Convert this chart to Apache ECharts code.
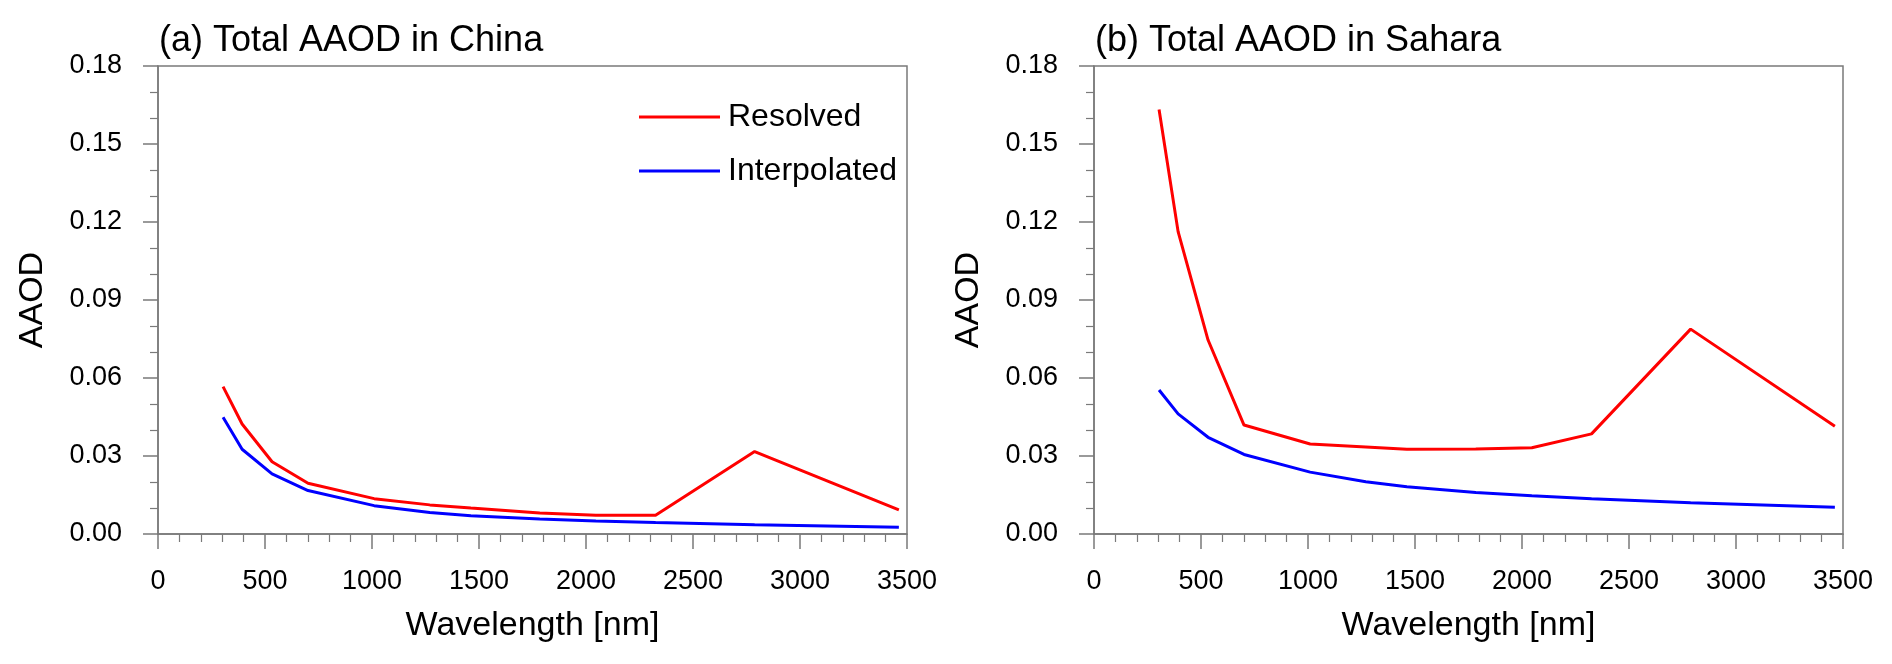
<!DOCTYPE html>
<html>
<head>
<meta charset="utf-8">
<script src="https://cdn.jsdelivr.net/npm/echarts@6/dist/echarts.min.js"></script>
<style>
html,body{margin:0;padding:0;background:#fff;}
#chart{width:1892px;height:664px;}
</style>
</head>
<body>
<div id="chart"></div>
<script>
// Band-center wavelengths (nm)
const wavelengths = [304, 393, 533, 701, 1010, 1270, 1462, 1784, 2046, 2325, 2788, 3462];
// (a) China
const chinaResolved     = [0.0567, 0.0423, 0.0278, 0.0195, 0.0136, 0.0112, 0.0100, 0.0081, 0.0072, 0.0072, 0.0317, 0.0093];
const chinaInterpolated = [0.0449, 0.0326, 0.0231, 0.0167, 0.0109, 0.0083, 0.0070, 0.0058, 0.0050, 0.0044, 0.0036, 0.0026];
// (b) Sahara
const saharaResolved     = [0.1633, 0.1163, 0.0746, 0.0419, 0.0346, 0.0335, 0.0326, 0.0327, 0.0332, 0.0385, 0.0788, 0.0414];
const saharaInterpolated = [0.0554, 0.0462, 0.0372, 0.0306, 0.0238, 0.0201, 0.0182, 0.0160, 0.0147, 0.0136, 0.0120, 0.0103];

const xTicks = [0, 500, 1000, 1500, 2000, 2500, 3000, 3500];
const yTicks = [0.00, 0.03, 0.06, 0.09, 0.12, 0.15, 0.18];
const titles = ['(a) Total AAOD in China', '(b) Total AAOD in Sahara'];
const seriesNames = ['Resolved', 'Interpolated'];
const seriesColors = ['#ff0000', '#0000ff'];

const FONT = '"Liberation Sans", Arial, Helvetica, sans-serif';
const AXIS_COLOR = '#7a7a7a';

function pairs(xs, ys) { return xs.map((x, i) => [x, ys[i]]); }

function xAxisDef(gi) {
  return {
    type: 'value', gridIndex: gi,
    min: xTicks[0], max: xTicks[xTicks.length - 1], interval: xTicks[1] - xTicks[0],
    name: 'Wavelength [nm]', nameLocation: 'middle', nameGap: 75,
    nameTextStyle: { fontFamily: FONT, fontSize: 34, color: '#000' },
    axisLine: { show: true, onZero: false, lineStyle: { color: AXIS_COLOR, width: 1.5 } },
    axisTick: { show: true, inside: false, length: 15, lineStyle: { color: AXIS_COLOR, width: 1.5 } },
    minorTick: { show: true, splitNumber: 5, length: 8, lineStyle: { color: AXIS_COLOR, width: 1.2 } },
    splitLine: { show: false },
    minorSplitLine: { show: false },
    axisLabel: { margin: 34, fontFamily: FONT, fontSize: 27, color: '#000',
      formatter: v => String(Math.round(v)) }
  };
}
function yAxisDef(gi) {
  return {
    type: 'value', gridIndex: gi,
    min: yTicks[0], max: yTicks[yTicks.length - 1], interval: yTicks[1] - yTicks[0],
    name: 'AAOD', nameLocation: 'middle', nameGap: 108, nameRotate: 90,
    nameTextStyle: { fontFamily: FONT, fontSize: 34, color: '#000' },
    axisLine: { show: true, onZero: false, lineStyle: { color: AXIS_COLOR, width: 1.5 } },
    axisTick: { show: true, inside: false, length: 15, lineStyle: { color: AXIS_COLOR, width: 1.5 } },
    minorTick: { show: true, splitNumber: 3, length: 8, lineStyle: { color: AXIS_COLOR, width: 1.2 } },
    splitLine: { show: false },
    minorSplitLine: { show: false },
    axisLabel: { margin: 36, fontFamily: FONT, fontSize: 27, color: '#000',
      formatter: v => v.toFixed(2) }
  };
}
function lineSeries(name, gi, xs, ys, color) {
  return {
    type: 'line', name: name, xAxisIndex: gi, yAxisIndex: gi,
    data: pairs(xs, ys), symbol: 'none', showSymbol: false,
    lineStyle: { color: color, width: 3 }, itemStyle: { color: color },
    emphasis: { disabled: true }, animation: false
  };
}

const chart = echarts.init(document.getElementById('chart'), null, { renderer: 'canvas' });
chart.setOption({
  backgroundColor: '#fff',
  animation: false,
  title: [
    { text: titles[0], left: 154, top: 18, textStyle: { fontFamily: FONT, fontSize: 36, fontWeight: 'normal', color: '#000' } },
    { text: titles[1], left: 1090, top: 18, textStyle: { fontFamily: FONT, fontSize: 36, fontWeight: 'normal', color: '#000' } }
  ],
  legend: {
    data: seriesNames.map((n, i) => ({ name: n, icon: 'rect', itemStyle: { color: seriesColors[i] } })),
    orient: 'vertical', left: 639, top: 101, padding: 0,
    itemWidth: 81, itemHeight: 3, itemGap: 22,
    textStyle: { fontFamily: FONT, fontSize: 32, color: '#000', lineHeight: 32, padding: [0, 0, 0, 3] },
    selectedMode: false
  },
  grid: [
    { left: 158, top: 66, width: 749, height: 468, show: true, borderColor: AXIS_COLOR, borderWidth: 1.5, backgroundColor: 'transparent' },
    { left: 1094, top: 66, width: 749, height: 468, show: true, borderColor: AXIS_COLOR, borderWidth: 1.5, backgroundColor: 'transparent' }
  ],
  xAxis: [xAxisDef(0), xAxisDef(1)],
  yAxis: [yAxisDef(0), yAxisDef(1)],
  series: [
    lineSeries(seriesNames[0], 0, wavelengths, chinaResolved, seriesColors[0]),
    lineSeries(seriesNames[1], 0, wavelengths, chinaInterpolated, seriesColors[1]),
    lineSeries(seriesNames[0] + ' ', 1, wavelengths, saharaResolved, seriesColors[0]),
    lineSeries(seriesNames[1] + ' ', 1, wavelengths, saharaInterpolated, seriesColors[1])
  ]
});
</script>
</body>
</html>
